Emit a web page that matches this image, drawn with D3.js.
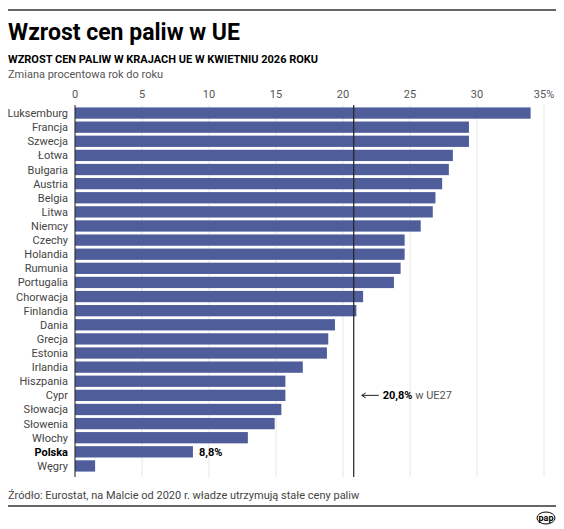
<!DOCTYPE html><html><head><meta charset="utf-8"><script src="https://cdn.jsdelivr.net/npm/d3@7"></script>
<style>body{margin:0;background:#fff}text{font-family:"Liberation Sans Narrow","Roboto",sans-serif}</style></head><body>
<script>
const countries=["Luksemburg","Francja","Szwecja","Łotwa","Bułgaria","Austria","Belgia","Litwa","Niemcy","Czechy","Holandia","Rumunia","Portugalia","Chorwacja","Finlandia","Dania","Grecja","Estonia","Irlandia","Hiszpania","Cypr","Słowacja","Słowenia","Włochy","Polska","Węgry"];
const values=[34.0,29.4,29.4,28.2,27.9,27.4,26.9,26.7,25.8,24.6,24.6,24.3,23.8,21.5,21.0,19.4,18.9,18.8,17.0,15.7,15.7,15.4,14.9,12.9,8.8,1.5];
const ticks=[0,5,10,15,20,25,30,35];
const euAvg=20.8;
const W=564,H=529;
const svg=d3.select("body").append("svg").attr("width",W).attr("height",H);
const x=d3.scaleLinear().domain([0,35]).range([75,544]);
const y=d3.scaleBand().domain(countries).range([106,473]).paddingInner(0.2).paddingOuter(0.1);
svg.append("line").attr("x1",8).attr("x2",556).attr("y1",10).attr("y2",10).attr("stroke","#333").attr("stroke-width",1.5);
svg.append("line").attr("x1",8).attr("x2",556).attr("y1",506).attr("y2",506).attr("stroke","#333").attr("stroke-width",1.5);
svg.append("text").attr("x",8).attr("y",40).attr("font-size",23).attr("font-weight","bold").text("Wzrost cen paliw w UE");
svg.append("text").attr("x",8).attr("y",63).attr("font-size",11).attr("font-weight","bold").text("WZROST CEN PALIW W KRAJACH UE W KWIETNIU 2026 ROKU");
svg.append("text").attr("x",8).attr("y",78).attr("font-size",11).attr("fill","#555").text("Zmiana procentowa rok do roku");
const g=svg.append("g");
ticks.forEach(t=>{
 g.append("line").attr("x1",x(t)).attr("x2",x(t)).attr("y1",105).attr("y2",477).attr("stroke","#e6e6e6");
 g.append("text").attr("x",x(t)).attr("y",98).attr("text-anchor","middle").attr("font-size",11).attr("fill","#555").text(t===35?"35%":t);
});
g.selectAll("rect").data(countries).join("rect").attr("x",x(0)).attr("y",d=>y(d)).attr("height",y.bandwidth())
 .attr("width",(d,i)=>x(values[i])-x(0)).attr("fill","#4f5e9b");
g.selectAll("text.lab").data(countries).join("text").attr("class","lab").attr("x",68).attr("y",d=>y(d)+y.bandwidth()/2+4)
 .attr("text-anchor","end").attr("font-size",11).attr("fill",d=>d==="Polska"?"#000":"#444").attr("font-weight",d=>d==="Polska"?"bold":"normal").text(d=>d);
g.append("line").attr("x1",x(0)).attr("x2",x(0)).attr("y1",105).attr("y2",477).attr("stroke","#222");
g.append("line").attr("x1",x(euAvg)).attr("x2",x(euAvg)).attr("y1",105).attr("y2",477).attr("stroke","#222").attr("stroke-width",1.2);
const pi=countries.indexOf("Polska");
g.append("text").attr("x",x(values[pi])+6).attr("y",y("Polska")+y.bandwidth()/2+4).attr("font-size",11).attr("font-weight","bold").text("8,8%");
const ay=y("Cypr")+y.bandwidth()/2;
g.append("line").attr("x1",x(euAvg)+8).attr("x2",x(euAvg)+25).attr("y1",ay).attr("y2",ay).attr("stroke","#222");
g.append("path").attr("d",`M${x(euAvg)+8},${ay} l4,-2.5 M${x(euAvg)+8},${ay} l4,2.5`).attr("stroke","#222").attr("fill","none");
const t=g.append("text").attr("x",x(euAvg)+29).attr("y",ay+4).attr("font-size",11);
t.append("tspan").attr("font-weight","bold").text("20,8%");
t.append("tspan").attr("fill","#555").text(" w UE27");
svg.append("text").attr("x",8).attr("y",499).attr("font-size",11).attr("fill","#444").text("Źródło: Eurostat, na Malcie od 2020 r. władze utrzymują stałe ceny paliw");
svg.append("text").attr("x",546).attr("y",521).attr("text-anchor","middle").attr("font-size",9).attr("font-weight","bold").text("pap");
svg.append("ellipse").attr("cx",546).attr("cy",518).attr("rx",9).attr("ry",6).attr("fill","none").attr("stroke","#000");
</script></body></html>
